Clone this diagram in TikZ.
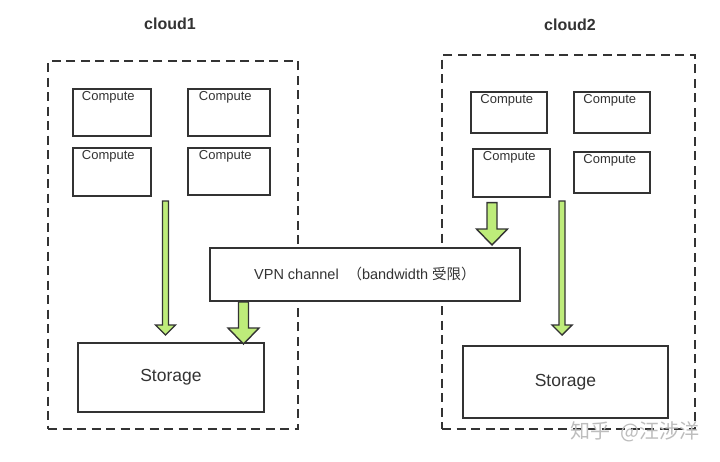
\documentclass[tikz,border=0pt]{standalone}
\usepackage{fontspec}
\setmainfont{Liberation Sans}
\newfontfamily\cjk{Noto Sans CJK SC}
\usetikzlibrary{calc}
\definecolor{ink}{HTML}{333333}
\definecolor{leaf}{RGB}{190,236,122}
\definecolor{wm}{HTML}{BDBDBD}
\tikzset{
  cloudbox/.style={draw=ink, line width=2pt, dash pattern=on 9pt off 5.5pt, anchor=north west, inner sep=0pt},
  compbox/.style={draw=ink, line width=1.6pt, fill=white, anchor=north west, inner sep=0pt},
  comptext/.style={text=ink, font=\fontsize{13}{15}\selectfont, inner sep=0pt},
  storebox/.style={draw=ink, line width=1.8pt, fill=white, anchor=north west, inner sep=0pt, text=ink, font=\fontsize{17.5}{20}\selectfont},
  vpnbox/.style={draw=ink, line width=1.8pt, fill=white, anchor=north west, inner sep=0pt, text=ink, font=\fontsize{14.5}{17}\selectfont},
  cloudtitle/.style={text=ink, font=\bfseries\fontsize{16}{18}\selectfont, inner sep=0pt},
  blockarrow/.style={draw=ink, fill=leaf, line width=1.4pt, line join=miter},
}
% #1 start, #2 tip, #3 half shaft, #4 half head, #5 head length
\newcommand\fatarrow[5]{%
  \draw[blockarrow] let \p1=(#1), \p2=(#2) in
    (\x1-#3pt,\y1) -- (\x1+#3pt,\y1) -- (\x1+#3pt,\y2+#5pt) -- (\x1+#4pt,\y2+#5pt)
    -- (\x1,\y2) -- (\x1-#4pt,\y2+#5pt) -- (\x1-#3pt,\y2+#5pt) -- cycle;}
\begin{document}
\begin{tikzpicture}[x=1pt,y=-1pt]
\path[use as bounding box, fill=white] (0,0) rectangle (720,461);

% clouds
\node[cloudbox, minimum width=250pt, minimum height=368pt] (cl1) at (47,60) {};
\node[cloudbox, minimum width=253pt, minimum height=374pt] (cl2) at (441,54) {};
\node[cloudtitle] (t1) at (170,24) {cloud1};
\node[cloudtitle] (t2) at (570,25) {cloud2};

% cloud1 computes
\node[compbox, minimum width=78pt, minimum height=47pt] (c1) at (72,88) {};
\node[compbox, minimum width=82pt, minimum height=47pt] (c2) at (187,88) {};
\node[compbox, minimum width=78pt, minimum height=48pt] (c3) at (72,147) {};
\node[compbox, minimum width=82pt, minimum height=47pt] (c4) at (187,147) {};
\foreach \n in {c1,c2,c3,c4}
  \node[comptext] at ($(\n.north)+(-3.5,9.5)$) {Compute};

% cloud2 computes
\node[compbox, minimum width=76pt, minimum height=41pt] (d1) at (470,91) {};
\node[compbox, minimum width=76pt, minimum height=41pt] (d2) at (573,91) {};
\node[compbox, minimum width=77pt, minimum height=48pt] (d3) at (472,148) {};
\node[compbox, minimum width=76pt, minimum height=41pt] (d4) at (573,151) {};
\foreach \n in {d1,d2,d3,d4}
  \node[comptext] at ($(\n.north)+(-2,9.5)$) {Compute};

% storage
\node[storebox, minimum width=186pt, minimum height=69pt] (s1) at (77,342) {Storage};
\node[storebox, minimum width=205pt, minimum height=72pt] (s2) at (462,345) {Storage};

% thin arrows inside each cloud
\coordinate (a1s) at (165.5,201);
\coordinate (a1e) at ($(a1s |- s1.north)+(0,-7)$);
\fatarrow{a1s}{a1e}{3}{10}{10}
\coordinate (a2s) at (562,201);
\coordinate (a2e) at ($(a2s |- s2.north)+(0,-10)$);
\fatarrow{a2s}{a2e}{3}{10}{10}

% VPN channel
\node[vpnbox, minimum width=310pt, minimum height=53pt] (vpn) at (209,247)
  {VPN channel\hspace{0.6em}{\cjk （}bandwidth {\cjk 受限）}};

% thick arrows through the VPN
\coordinate (b1s) at ($(d3.south west)+(20,5)$);
\coordinate (b1e) at ($(b1s |- vpn.north)+(0,-2)$);
\fatarrow{b1s}{b1e}{5}{15.5}{16}
\coordinate (b2s) at ($(vpn.south west)+(34.5,0)$);
\coordinate (b2e) at ($(b2s |- s1.north)+(0,2)$);
\fatarrow{b2s}{b2e}{5}{15.5}{16}

% watermark
\node[text=wm, font=\cjk\fontsize{20}{22}\selectfont, inner sep=0pt] (wmk) at (635,432) {知乎\hspace{0.5em}@汪涉洋};
\end{tikzpicture}
\end{document}
